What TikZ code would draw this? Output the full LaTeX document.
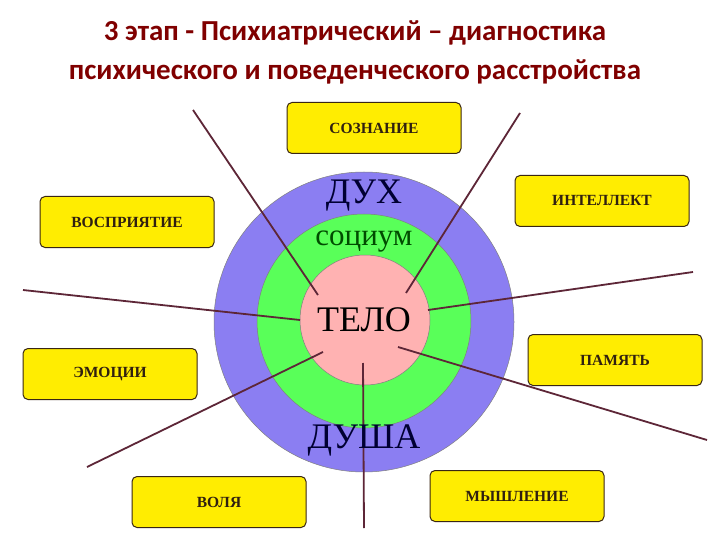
\documentclass[tikz,border=0pt]{standalone}
\usepackage{fontspec}
\setmainfont{Liberation Serif}
\newfontfamily\titlefont{Carlito}
\begin{document}
\begin{tikzpicture}[x=1pt,y=-1pt,
 box/.style={draw=black!70!brown,line width=1pt,fill=yellow!95!orange,rounded corners=5pt,minimum width=174pt,minimum height=51pt,font=\bfseries\fontsize{15.5}{17}\selectfont,text=black!75!brown},
 ray/.style={draw=black!60!violet!70!brown,line width=1.8pt},
 ring/.style={draw=black!50,line width=0.5pt},
 big/.style={font=\fontsize{36}{40}\selectfont,text=black!80!blue}]
\useasboundingbox (0,0) rectangle (720,540);
\fill[white] (0,0) rectangle (720,540);
\node[font=\titlefont\bfseries\fontsize{29}{39}\selectfont,text=red!50!black,align=center] (title) at (355,52) {3 этап - Психиатрический – диагностика\\психического и поведенческого расстройства};
\draw[ring,fill=blue!45!white!90!violet] (364,322) circle (150);
\draw[ring,fill=green!65!white] (364,321) circle (107);
\draw[ring,fill=red!30!white] (365,320) circle (65);
\coordinate (a1) at (193,110); \coordinate (b1) at (318,295);
\coordinate (a2) at (520,113); \coordinate (b2) at (406,293);
\coordinate (a3) at (23,290); \coordinate (b3) at (300,320);
\coordinate (a4) at (693,272); \coordinate (b4) at (428,310);
\coordinate (a5) at (87,467); \coordinate (b5) at (323,352);
\coordinate (a6) at (707,440); \coordinate (b6) at (398,347);
\coordinate (a7) at (364,528); \coordinate (b7) at (363,363);
\foreach \i in {1,...,7} \draw[ray] (a\i) -- (b\i);
\node[big] (dux) at (364,196) {ДУХ};
\node[big,font=\fontsize{31}{34}\selectfont,text=black!70!green] (soc) at (364,242) {социум};
\node[big,text=black] (telo) at (364,320) {ТЕЛО};
\node[big] (dusha) at (364,440) {ДУША};
\node[box] (b-soz) at (374,128) {СОЗНАНИЕ};
\node[box] (b-int) at (602,201) {ИНТЕЛЛЕКТ};
\node[box] (b-vos) at (127,222) {ВОСПРИЯТИЕ};
\node[box] (b-emo) at (110,374) {ЭМОЦИИ};
\node[box] (b-pam) at (615,360) {ПАМЯТЬ};
\node[box] (b-vol) at (219,502) {ВОЛЯ};
\node[box] (b-mys) at (517,496) {МЫШЛЕНИЕ};
\end{tikzpicture}
\end{document}
